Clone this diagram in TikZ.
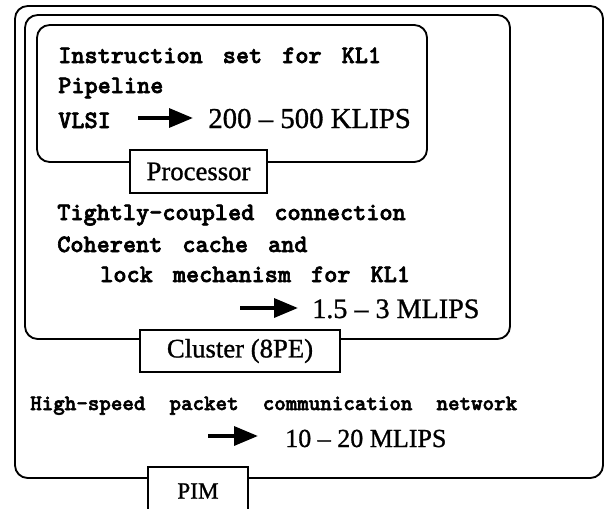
\documentclass[tikz,border=0pt]{standalone}
\usepackage{fontspec}
\setmainfont[FakeBold=1]{Liberation Serif}
\newfontfamily\monob[FakeBold=2.5]{lmmonolt10-bold.otf}
\usepackage{tikz}
\usetikzlibrary{arrows.meta,positioning}
\newcommand\specfont[2]{\monob\fontsize{#1}{20}\selectfont\spaceskip=#2em\relax}

\begin{document}
\begin{tikzpicture}[
  frame/.style={draw, line width=1.3pt, rounded corners=9pt},
  tag/.style={draw, fill=white, line width=1.3pt, inner sep=0pt},
  spec/.style={anchor=base west, inner sep=0pt, font=\specfont{17.8}{0.8}},
  rate/.style={anchor=base west, inner sep=0pt, font=\fontsize{20.5}{24}\selectfont},
  speedup/.style={line width=2.8pt, -{Triangle[length=0.6cm,width=0.47cm]}}
]
  \useasboundingbox (0,0) rectangle (15.125,-12.7);

  \node[frame, minimum width=14.7cm, minimum height=11.8cm] (pimbox) at (7.725,-6.05) {};
  \node[frame, minimum width=12.125cm, minimum height=8.1cm] (clusterbox) at (6.6875,-4.425) {};
  \node[frame, minimum width=9.75cm, minimum height=3.425cm] (procbox) at (5.8,-2.3375) {};

  \node[spec] (instr) at (1.45,-1.575) {Instruction set for KL1};
  \node[spec] (pipe) at (1.45,-2.325) {Pipeline};
  \node[spec] (vlsi) at (1.45,-3.2) {VLSI};
  \node[rate] (klips) at (5.2,-3.2) {200 – 500 KLIPS};
  \coordinate (vlsiarr) at (3.45,-2.95);
  \draw[speedup, shorten >=0.375cm] (vlsiarr) -- (vlsiarr -| klips.west);

  \node[tag, minimum width=3.425cm, minimum height=1.075cm, font=\fontsize{19}{22}\selectfont] (proc) at (4.9625,-4.2875) {Processor};

  \node[spec] (tight) at (1.425,-5.5) {Tightly-coupled connection};
  \node[spec] (coher) at (1.425,-6.3) {Coherent cache and};
  \node[spec] (lock) at (2.5,-7.05) {lock mechanism for KL1};
  \node[rate, font=\fontsize{20}{24}\selectfont] (mlips) at (7.8,-7.95) {1.5 – 3 MLIPS};
  \coordinate (lockarr) at (6.0,-7.7);
  \draw[speedup, shorten >=0.35cm] (lockarr) -- (lockarr -| mlips.west);

  \node[tag, minimum width=5cm, minimum height=1.05cm, font=\fontsize{19}{22}\selectfont] (cluster) at (6.0,-8.775) {Cluster (8PE)};

  \node[spec, font=\specfont{15.6}{1.1}] (net) at (0.75,-10.25) {High-speed packet communication network};
  \node[rate, font=\fontsize{18.5}{22}\selectfont] (netrate) at (7.125,-11.175) {10 – 20 MLIPS};
  \coordinate (netarr) at (5.2,-10.9);
  \draw[speedup, shorten >=0.675cm] (netarr) -- (netarr -| netrate.west);

  \node[tag, minimum width=2.5cm, minimum height=1.2cm, font=\fontsize{16.5}{20}\selectfont] (pim) at (4.95,-12.275) {PIM};
\end{tikzpicture}
\end{document}
